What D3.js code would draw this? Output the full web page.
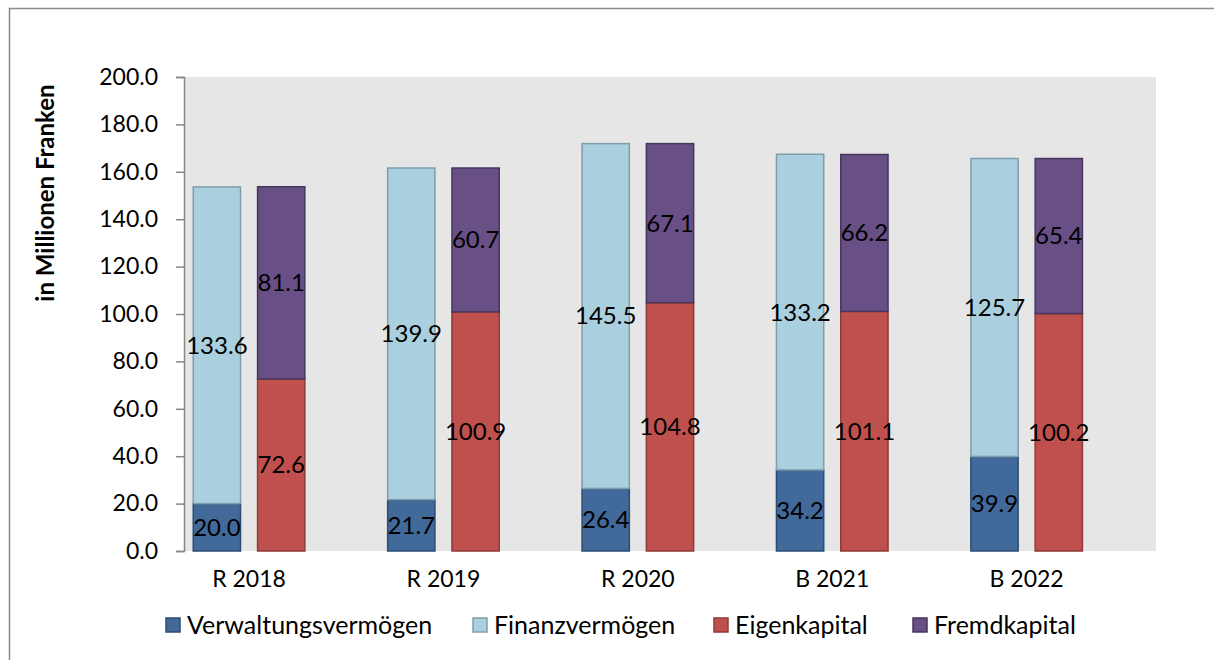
<!DOCTYPE html>
<html>
<head>
<meta charset="utf-8">
<script src="https://cdn.jsdelivr.net/npm/d3@7"></script>
<style>
  body { margin: 0; background: #fff; }
  text { font-family: Lato, "Open Sans", sans-serif; fill: #000; }
</style>
</head>
<body>
<div id="chart"></div>
<script>
// Chart data
const categories = ['R 2018', 'R 2019', 'R 2020', 'B 2021', 'B 2022'];
const verwaltungsvermoegen = [20.0, 21.7, 26.4, 34.2, 39.9];
const finanzvermoegen = [133.6, 139.9, 145.5, 133.2, 125.7];
const eigenkapital = [72.6, 100.9, 104.8, 101.1, 100.2];
const fremdkapital = [81.1, 60.7, 67.1, 66.2, 65.4];
const yTicks = [0, 20, 40, 60, 80, 100, 120, 140, 160, 180, 200];

const seriesNames = ['Verwaltungsvermögen', 'Finanzvermögen', 'Eigenkapital', 'Fremdkapital'];
const fills = ['#41699A', '#AACFDE', '#C0504D', '#684F86'];
const strokes = ['#2B4C74', '#7E9EAB', '#8E3A37', '#46365C'];

const width = 1214, height = 660;
const margin = { top: 77, right: 58, bottom: 109, left: 184 };
const innerW = width - margin.left - margin.right;
const innerH = height - margin.top - margin.bottom;

const svg = d3.select('#chart').append('svg')
    .attr('width', width)
    .attr('height', height);

// outer chart border (runs past the window on the right and bottom)
svg.append('rect')
    .attr('x', 9.5).attr('y', 8.5)
    .attr('width', width + 20).attr('height', height + 20)
    .attr('fill', 'none')
    .attr('stroke', '#8a8a8a')
    .attr('stroke-width', 1.5);

const g = svg.append('g').attr('transform', `translate(${margin.left},${margin.top})`);

// plot background
g.append('rect')
    .attr('width', innerW).attr('height', innerH)
    .attr('fill', '#E6E6E6');

const x0 = d3.scaleBand().domain(categories).range([0, innerW]).padding(0);
const x1 = d3.scaleBand().domain(['Aktiven', 'Passiven', 'leer'])
    .range([0, x0.bandwidth()])
    .paddingInner(0.265)
    .paddingOuter(0.144);
const y = d3.scaleLinear().domain([0, 200]).range([innerH, 0]);

// build rows for stacking
const rows = categories.map((c, i) => ({
    cat: c,
    'Verwaltungsvermögen': verwaltungsvermoegen[i],
    'Finanzvermögen': finanzvermoegen[i],
    'Eigenkapital': eigenkapital[i],
    'Fremdkapital': fremdkapital[i]
}));

const groups = [
    { slot: 'Aktiven', keys: ['Verwaltungsvermögen', 'Finanzvermögen'] },
    { slot: 'Passiven', keys: ['Eigenkapital', 'Fremdkapital'] }
];

groups.forEach(grp => {
    const stacked = d3.stack().keys(grp.keys)(rows);
    stacked.forEach(layer => {
        const si = seriesNames.indexOf(layer.key);
        const lg = g.append('g');
        lg.selectAll('rect')
            .data(layer)
            .enter()
            .append('rect')
            .attr('x', d => x0(d.data.cat) + x1(grp.slot))
            .attr('y', d => y(d[1]))
            .attr('width', x1.bandwidth())
            .attr('height', d => y(d[0]) - y(d[1]))
            .attr('fill', fills[si])
            .attr('stroke', strokes[si])
            .attr('stroke-width', 1.5);
        lg.selectAll('text')
            .data(layer)
            .enter()
            .append('text')
            .attr('x', d => x0(d.data.cat) + x1(grp.slot) + x1.bandwidth() / 2)
            .attr('y', d => y((d[0] + d[1]) / 2))
            .attr('dy', '0.35em')
            .attr('text-anchor', 'middle')
            .style('font-size', '24px')
            .text(d => d3.format('.1f')(d[1] - d[0]));
    });
});

// y axis
const yAxis = g.append('g')
    .call(d3.axisLeft(y).tickValues(yTicks).tickFormat(d3.format('.1f')).tickSize(8).tickSizeOuter(8));
yAxis.selectAll('path, line').attr('stroke', '#868686').attr('stroke-width', 1.5);
yAxis.selectAll('text')
    .attr('x', -26)
    .style('font-size', '23px')
    .style('font-family', 'Lato, sans-serif');

// category labels
g.selectAll('.cat')
    .data(categories)
    .enter()
    .append('text')
    .attr('class', 'cat')
    .attr('x', d => x0(d) + (x1('Aktiven') + x1('Passiven') + x1.bandwidth()) / 2)
    .attr('y', innerH + 28)
    .attr('dy', '0.35em')
    .attr('text-anchor', 'middle')
    .style('font-size', '23px')
    .text(d => d);

// y axis title
svg.append('text')
    .attr('transform', 'translate(46,193) rotate(-90)')
    .attr('text-anchor', 'middle')
    .attr('dy', '0.35em')
    .style('font-size', '24px')
    .style('font-weight', 'bold')
    .text('in Millionen Franken');

// legend
const legendX = [166, 473, 714, 913];
const legend = svg.append('g');
seriesNames.forEach((name, i) => {
    legend.append('rect')
        .attr('x', legendX[i]).attr('y', 618)
        .attr('width', 14).attr('height', 14)
        .attr('fill', fills[i])
        .attr('stroke', strokes[i])
        .attr('stroke-width', 1.5);
    legend.append('text')
        .attr('x', legendX[i] + 21)
        .attr('y', 625)
        .attr('dy', '0.35em')
        .style('font-size', '25px')
        .text(name);
});
</script>
</body>
</html>
